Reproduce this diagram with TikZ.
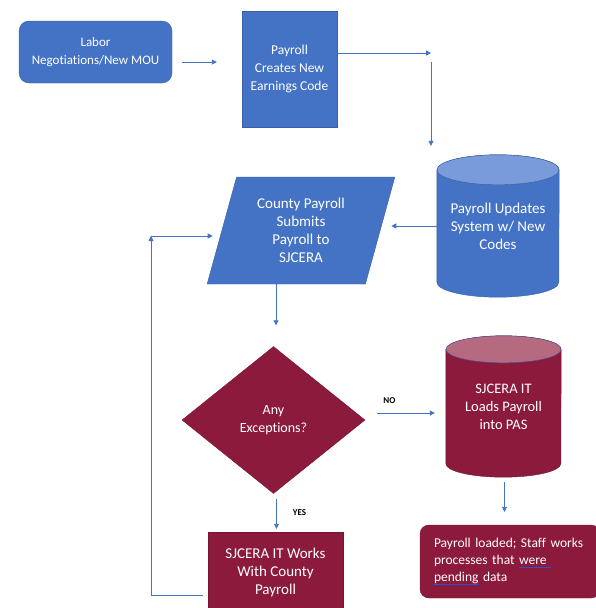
\documentclass[tikz,border=0pt]{standalone}
\usepackage{fontspec}
\setmainfont{Carlito}[Ligatures=NoCommon]
\usetikzlibrary{shapes.geometric,arrows.meta,backgrounds}
\definecolor{flowBlue}{HTML}{4472C4}
\definecolor{flowBlueTop}{HTML}{7A9BDA}
\definecolor{flowRed}{HTML}{8C1A3C}
\definecolor{flowRedTop}{HTML}{B56A80}
\definecolor{markBlue}{HTML}{2F4FD0}
\newcommand{\spellmark}[1]{\leavevmode\setbox0\hbox{#1}\rlap{\textcolor{markBlue}{\rule[-2.5pt]{\wd0}{0.8pt}}}\box0\relax}
\newcommand{\fs}[1]{\fontsize{#1}{18}\selectfont}
% drum outline round a node: node, body colour, top colour, x radius, y radius
\newcommand{\drumshape}[5]{%
  \filldraw[fill=#2,draw=#2!85!black,thin]
    ([yshift=-#5]#1.north west) -- ([yshift=#5]#1.south west)
    arc[start angle=180,end angle=360,x radius=#4,y radius=#5]
    -- ([yshift=-#5]#1.north east)
    arc[start angle=0,end angle=180,x radius=#4,y radius=#5] -- cycle;
  \filldraw[fill=#3,draw=flowBlue!80!black,thin]
    ([yshift=-#5]#1.north) ellipse[x radius=#4,y radius=#5];}
\begin{document}
\begin{tikzpicture}
[x=1pt,y=-1pt,
  textDecorate/.style={text=white,align=center,inner sep=2pt,font=\fs{15}},%
  blueDecorate/.style={textDecorate,fill=flowBlue,draw=flowBlue!85!black,thin},%
  redDecorate/.style={textDecorate,fill=flowRed,draw=flowRed!85!black,thin},%
  lineDecorate/.style={draw=flowBlue,line width=0.9pt,
    -{Triangle[length=5pt,width=5pt]}},%
  tagDecorate/.style={font=\fontsize{9}{10}\selectfont\bfseries,inner sep=1pt}]
\useasboundingbox (0,0) rectangle (595,608);
%% nodes or vertices
\node (labor) at (95.5,52) [blueDecorate,rounded corners=10pt,font=\fs{13},
  minimum width=153pt,minimum height=62pt] {Labor\\Negotiations/New MOU};
\node (codes) at (289.5,69) [blueDecorate,font=\fs{13.5},minimum width=95pt,
  minimum height=116pt] {Payroll\\Creates New\\Earnings Code};
\node (update) at (498,226) [textDecorate,minimum width=122pt,
  minimum height=142pt] {Payroll Updates\\System w/ New\\Codes};
\node (submit) at (301,230.5) [blueDecorate,trapezium,trapezium left angle=73,
  trapezium right angle=107,trapezium stretches=true,
  minimum width=188pt,minimum height=107pt]
  {County Payroll\\Submits\\Payroll to\\SJCERA};
\node (check) at (273.5,420) [redDecorate,diamond,aspect=1.25,font=\fs{14},
  minimum width=183pt,minimum height=147pt] {Any\\Exceptions?};
\node (load) at (503.5,406.5) [textDecorate,font=\fs{14.5},minimum width=115pt,
  minimum height=141pt] {SJCERA IT\\Loads Payroll\\into PAS};
\node (works) at (275.5,572) [redDecorate,minimum width=135pt,
  minimum height=80pt] {SJCERA IT Works\\With County\\Payroll};
\node (done) at (510,561.5) [redDecorate,rounded corners=9pt,
  minimum width=180pt,minimum height=73pt,text width=152pt,align=left,
  font=\fontsize{13.5}{17}\selectfont]
  {Payroll loaded; Staff works\\processes that \spellmark{were\ }\\\spellmark{pending} data};
\begin{scope}[on background layer]
  \drumshape{update}{flowBlue}{flowBlueTop}{61pt}{15pt}
  \drumshape{load}{flowRed}{flowRedTop}{57.5pt}{13.5pt}
\end{scope}
\coordinate (turn) at (431,53);
\coordinate (back) at (151,236);
%% edges or lines
\draw[lineDecorate,shorten <=10pt,shorten >=25pt]
  ([yshift=-10pt]labor.east) -- ([yshift=-10pt]labor.east -| codes.west);
\draw[lineDecorate] ([yshift=16pt]codes.east) -- (turn);
\draw[lineDecorate,shorten >=9pt] ([yshift=-9pt]turn) -- (turn |- update.north);
\draw[lineDecorate,shorten >=11pt] (update.west) -- (update.west -| submit.east);
\draw[lineDecorate,shorten >=21pt]
  ([xshift=2.5pt]check.north |- submit.south) -- ([xshift=2.5pt]check.north);
\draw[lineDecorate,shorten <=12pt,shorten >=11pt]
  ([yshift=7pt]check.east) -- ([yshift=7pt]check.east -| load.west)
  node[tagDecorate,pos=0.3,above=8pt] {NO};
\draw[lineDecorate,shorten <=5pt,shorten >=3pt]
  ([xshift=3pt]check.south) -- ([xshift=3pt]check.south |- works.north)
  node[tagDecorate,midway,right=15pt] {YES};
\draw[lineDecorate,shorten <=5pt,shorten >=13pt]
  ([xshift=1pt]load.south) -- ([xshift=1pt]load.south |- done.north);
\draw[lineDecorate,shorten <=5pt] ([yshift=-23pt]works.west) -| (back);
\draw[lineDecorate,shorten >=9pt] (back) -- (back -| submit.west);
\end{tikzpicture}
\end{document}
